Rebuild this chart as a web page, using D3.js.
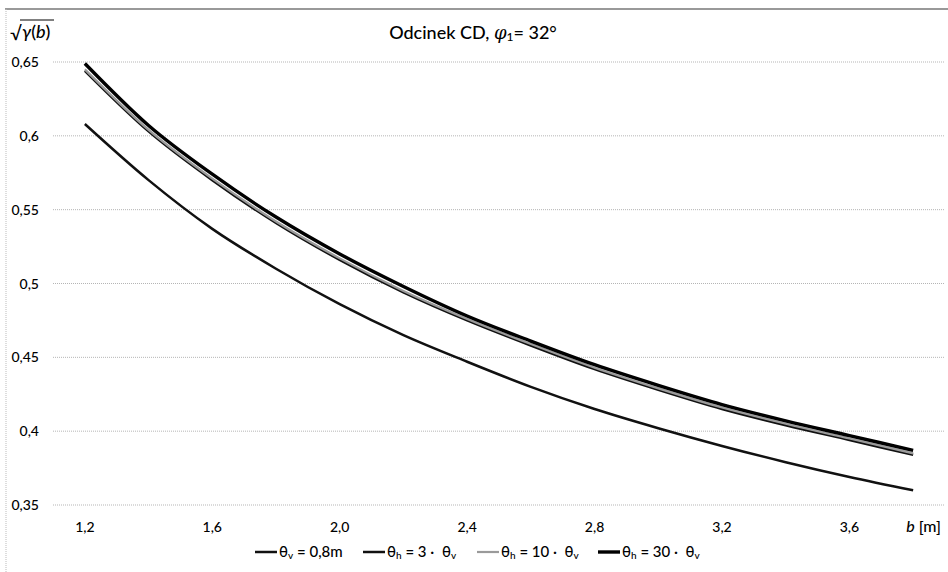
<!DOCTYPE html>
<html>
<head>
<meta charset="utf-8">
<script src="https://cdn.jsdelivr.net/npm/d3@7"></script>
<style>
  body { margin: 0; background: #fff; }
  svg text { font-family: Lato, "Open Sans", sans-serif; fill: #000; }
</style>
</head>
<body>
<div id="chart"></div>
<script>
// b [m] categories
var bValues = ["1,2","1,4","1,6","1,8","2,0","2,2","2,4","2,6","2,8","3,0","3,2","3,4","3,6","3,8"];
var yTicks = [0.35, 0.4, 0.45, 0.5, 0.55, 0.6, 0.65];

// sqrt(gamma(b))
var thetaV   = [0.608, 0.570, 0.537, 0.510, 0.486, 0.465, 0.447, 0.430, 0.415, 0.402, 0.390, 0.379, 0.369, 0.360];
var thetaH3  = [0.644, 0.603, 0.570, 0.541, 0.516, 0.494, 0.475, 0.458, 0.442, 0.428, 0.415, 0.404, 0.394, 0.384];
var thetaH10 = [0.645, 0.604, 0.571, 0.542, 0.517, 0.495, 0.476, 0.459, 0.443, 0.429, 0.416, 0.405, 0.395, 0.385];
var thetaH30 = [0.649, 0.607, 0.574, 0.545, 0.520, 0.498, 0.478, 0.461, 0.445, 0.431, 0.418, 0.407, 0.397, 0.387];

var series = [
  {name: "v",  values: thetaV,   color: "#111", width: 2.5},
  {name: "h3", values: thetaH3,  color: "#111", width: 2.5},
  {name: "h10",values: thetaH10, color: "#9a9a9a", width: 2.2},
  {name: "h30",values: thetaH30, color: "#000", width: 3.4}
];

var W = 948, H = 572;
var plot = {left: 53, right: 945, top: 62, bottom: 505};

var svg = d3.select("#chart").append("svg")
  .attr("width", W).attr("height", H);

// outer frame (scanned look)
svg.append("line").attr("x1", 5).attr("x2", W).attr("y1", 9).attr("y2", 9)
  .attr("stroke", "#777").attr("stroke-width", 1.6);
svg.append("line").attr("x1", 6).attr("x2", 6).attr("y1", 9).attr("y2", H)
  .attr("stroke", "#bbb").attr("stroke-width", 1).attr("stroke-dasharray", "1,1");

var x = d3.scaleBand().domain(bValues).range([plot.left, plot.right]).padding(0);
var y = d3.scaleLinear().domain([0.35, 0.65]).range([plot.bottom, plot.top]);
var cx = function(i){ return x(bValues[i]) + x.bandwidth()/2; };

// gridlines
svg.append("g").selectAll("line").data(yTicks).enter().append("line")
  .attr("x1", plot.left).attr("x2", plot.right)
  .attr("y1", function(d){ return y(d); }).attr("y2", function(d){ return y(d); })
  .attr("stroke", "#b5b5b5").attr("stroke-width", 1).attr("stroke-dasharray", "1,1");

// y tick labels
svg.append("g").selectAll("text").data(yTicks).enter().append("text")
  .attr("x", 39).attr("y", function(d){ return y(d) + 5; })
  .attr("text-anchor", "end").style("font-size", "14px").style("font-weight", 500)
  .text(function(d){ return String(d).replace(".", ","); });

// x tick labels (every other category)
svg.append("g").selectAll("text").data(bValues.filter(function(d,i){ return i % 2 == 0 && i < 13; }))
  .enter().append("text")
  .attr("x", function(d){ return x(d) + x.bandwidth()/2; })
  .attr("y", 532)
  .attr("text-anchor", "middle").style("font-size", "14px").style("font-weight", 500)
  .text(function(d){ return d; });

// x axis title
var bt = svg.append("text").attr("x", 941).attr("y", 532).attr("text-anchor", "end")
  .style("font-size", "16px").style("font-weight", 500);
bt.append("tspan").style("font-style", "italic").text("b");
bt.append("tspan").text(" [m]");

// y axis title: sqrt(gamma(b))
svg.append("text").attr("x", 10).attr("y", 40).style("font-size", "19px").text("√");
var yt = svg.append("text").attr("x", 22).attr("y", 38).style("font-size", "18px").style("font-weight", 500);
yt.append("tspan").style("font-style", "italic").text("γ");
yt.append("tspan").text("(");
yt.append("tspan").style("font-style", "italic").text("b");
yt.append("tspan").text(")");
svg.append("line").attr("x1", 20).attr("x2", 54).attr("y1", 20).attr("y2", 20)
  .attr("stroke", "#000").attr("stroke-width", 1);

// title
var tt = svg.append("text").attr("x", 473).attr("y", 39).attr("text-anchor", "middle")
  .style("font-size", "18px").style("font-weight", 500);
tt.append("tspan").text("Odcinek CD, ");
tt.append("tspan").style("font-style", "italic").style("font-family", "'DejaVu Serif', serif").text("φ");
tt.append("tspan").style("font-size", "12px").attr("dy", 2).text("1");
tt.append("tspan").attr("dy", -2).text("= 32°");

// lines
var line = d3.line()
  .x(function(d, i){ return cx(i); })
  .y(function(d){ return y(d); })
  .curve(d3.curveMonotoneX);

svg.append("g").selectAll("path").data(series).enter().append("path")
  .attr("d", function(s){ return line(s.values); })
  .attr("fill", "none")
  .attr("stroke", function(s){ return s.color; })
  .attr("stroke-width", function(s){ return s.width; });

// legend
var legendItems = [
  {sym: "θ", sub: "v", rest: " = 0,8m", s: series[0]},
  {sym: "θ", sub: "h", rest: " = 3 ·  θ", sub2: "v", s: series[1]},
  {sym: "θ", sub: "h", rest: " = 10 ·  θ", sub2: "v", s: series[2]},
  {sym: "θ", sub: "h", rest: " = 30 ·  θ", sub2: "v", s: series[3]}
];
var legendStarts = [255, 363, 477, 598];
var lg = svg.append("g");
legendItems.forEach(function(d, i){
  var x0 = legendStarts[i];
  lg.append("line").attr("x1", x0).attr("x2", x0 + 22).attr("y1", 552).attr("y2", 552)
    .attr("stroke", d.s.color).attr("stroke-width", d.s.width);
  var t = lg.append("text").attr("x", x0 + 24).attr("y", 557)
    .style("font-size", "15px").style("font-weight", 500).attr("xml:space", "preserve");
  t.append("tspan").text(d.sym);
  t.append("tspan").style("font-size", "10px").attr("dy", 2).text(d.sub);
  t.append("tspan").attr("dy", -2).text(d.rest);
  if (d.sub2) t.append("tspan").style("font-size", "10px").attr("dy", 2).text(d.sub2);
});
</script>
</body>
</html>
